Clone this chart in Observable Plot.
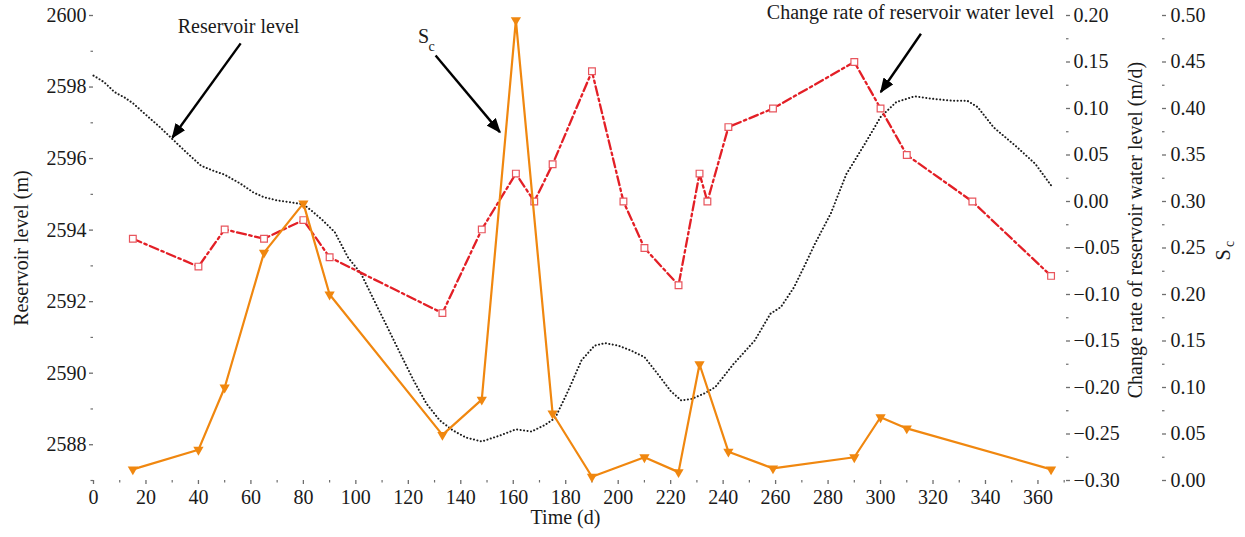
<!DOCTYPE html>
<html>
<head>
<meta charset="utf-8">
<script src="https://cdn.jsdelivr.net/npm/d3@7"></script>
<script src="https://cdn.jsdelivr.net/npm/@observablehq/plot@0.6"></script>
<style>
  html, body { margin: 0; padding: 0; background: #fff; }
  svg text { font-family: 'Liberation Serif', 'Times New Roman', serif; }
</style>
</head>
<body>
<div id="chart"></div>
<script>
// ---------- data ----------
const levelDays = [0, 4, 8, 12, 15, 20, 25, 30, 35, 41, 46, 50, 56, 61, 65, 70, 75, 80, 83, 87, 92, 97, 102, 107, 112, 117, 122, 127, 132, 137, 142, 148, 155, 161, 167, 172, 176, 181, 186, 191, 195, 200, 205, 210, 216, 220, 224, 228, 233, 237, 244, 252, 258, 262, 267, 271, 275, 281, 287, 294, 300, 306, 313, 320, 327, 333, 337, 343, 352, 359, 365.5];
const levelValues = [2598.32, 2598.14, 2597.86, 2597.7, 2597.55, 2597.22, 2596.9, 2596.55, 2596.2, 2595.8, 2595.65, 2595.55, 2595.3, 2595.05, 2594.92, 2594.83, 2594.78, 2594.72, 2594.55, 2594.3, 2593.94, 2593.24, 2592.78, 2592.03, 2591.29, 2590.54, 2589.8, 2589.14, 2588.68, 2588.4, 2588.2, 2588.09, 2588.26, 2588.43, 2588.37, 2588.55, 2588.75, 2589.52, 2590.36, 2590.77, 2590.84, 2590.77, 2590.63, 2590.45, 2589.89, 2589.5, 2589.24, 2589.28, 2589.44, 2589.61, 2590.26, 2590.91, 2591.66, 2591.85, 2592.4, 2593.0, 2593.62, 2594.46, 2595.57, 2596.41, 2597.16, 2597.58, 2597.74, 2597.67, 2597.62, 2597.62, 2597.44, 2596.88, 2596.32, 2595.85, 2595.2];

const rateDays = [15, 40, 50, 65, 80, 90, 133, 148, 161, 168, 175, 190, 202, 210, 223, 231, 234, 242, 259, 290, 300, 310, 335, 365];
const rateValues = [-0.04, -0.07, -0.03, -0.04, -0.02, -0.06, -0.12, -0.03, 0.03, 0.00, 0.04, 0.14, 0.00, -0.05, -0.09, 0.03, 0.00, 0.08, 0.10, 0.15, 0.10, 0.05, 0.00, -0.08];

const scDays = [15, 40, 50, 65, 80, 90, 133, 148, 161, 175, 190, 210, 223, 231, 242, 259, 290, 300, 310, 365];
const scValues = [0.012, 0.033, 0.10, 0.245, 0.298, 0.20, 0.049, 0.087, 0.495, 0.072, 0.004, 0.025, 0.009, 0.125, 0.031, 0.013, 0.025, 0.068, 0.056, 0.012];

// tick values
const xTicks = d3.range(0, 361, 20);
const xMinorTicks = d3.range(10, 371, 20);
const levelTicks = d3.range(2588, 2601, 2);
const levelMinorTicks = d3.range(2587, 2600, 2);
const rateTicks = [-0.30, -0.25, -0.20, -0.15, -0.10, -0.05, 0.00, 0.05, 0.10, 0.15, 0.20];
const rateMinorTicks = d3.range(-0.275, 0.2, 0.05);
const scTicks = [0.00, 0.05, 0.10, 0.15, 0.20, 0.25, 0.30, 0.35, 0.40, 0.45, 0.50];
const scMinorTicks = d3.range(0.025, 0.5, 0.05);

// annotations (data units: days, reservoir level m)
const annotMiddle = [
  { label: "Reservoir level", x: 55.3, y: 2599.70, size: 20 },
  { label: "S", x: 125.8, y: 2599.40, size: 20 },
  { label: "c", x: 128.9, y: 2599.12, size: 14 }
];
const annotEnd = [
  { label: "Change rate of reservoir water level", x: 366.1, y: 2600.07, size: 20 }
];
const annotArrows = [
  { x1: 56.1, y1: 2599.22, x2: 30.1, y2: 2596.59 },
  { x1: 130.4, y1: 2598.88, x2: 154.9, y2: 2596.74 },
  { x1: 315.4, y1: 2599.49, x2: 300.1, y2: 2597.86 }
];

// ---------- scale mapping for twin axes ----------
const LEVEL_MIN = 2587, LEVEL_MAX = 2600;
const RATE_MIN = -0.30, RATE_MAX = 0.20;
const SC_MIN = 0, SC_MAX = 0.5;
const span = LEVEL_MAX - LEVEL_MIN;
const rateToY = v => LEVEL_MIN + (v - RATE_MIN) / (RATE_MAX - RATE_MIN) * span;
const yToRate = y => RATE_MIN + (y - LEVEL_MIN) / span * (RATE_MAX - RATE_MIN);
const scToY = s => LEVEL_MIN + (s - SC_MIN) / (SC_MAX - SC_MIN) * span;
const yToSc = y => SC_MIN + (y - LEVEL_MIN) / span * (SC_MAX - SC_MIN);
const fmt2 = v => d3.format(".2f")((Math.round(v * 100) / 100) || 0);

const levelData = levelDays.map((d, i) => ({ d, v: levelValues[i] }));
const rateData = rateDays.map((d, i) => ({ d, v: rateToY(rateValues[i]) }));
const scData = scDays.map((d, i) => ({ d, v: scToY(scValues[i]) }));

const FONT = "'Liberation Serif', 'Times New Roman', serif";
const AXIS = "#6e6e6e";
const TEXT = "#1a1a1a";
const RED = "#e31f26";
const PINK = "#e8555d";
const ORANGE = "#f0870f";

const label = (txt, opts) => Plot.text([txt], { text: d => d, fill: TEXT, fontSize: 20, fontFamily: FONT, textAnchor: "middle", lineAnchor: "middle", ...opts });

const plot = Plot.plot({
  width: 1245,
  height: 537,
  marginLeft: 93,
  marginRight: 180,
  marginTop: 15,
  marginBottom: 57,
  style: {
    fontFamily: FONT,
    fontSize: "20px",
    background: "#fff",
    color: TEXT
  },
  x: { domain: [0, 370.5] },
  y: { domain: [LEVEL_MIN, LEVEL_MAX] },
  marks: [
    // x axis
    Plot.axisX({ ticks: xTicks, tickSize: 4, tickPadding: 5, line: true, label: null, stroke: AXIS, fill: TEXT, strokeWidth: 1.3, tickFormat: d => String(d) }),
    Plot.axisX({ ticks: xMinorTicks, tickSize: 2.5, text: null, label: null, stroke: AXIS, strokeWidth: 1.2 }),
    // left axis
    Plot.axisY({ anchor: "left", ticks: levelTicks, tickSize: 4, tickPadding: 3, line: true, label: null, stroke: AXIS, fill: TEXT, strokeWidth: 1.3, tickFormat: d => String(d) }),
    Plot.axisY({ anchor: "left", ticks: levelMinorTicks, tickSize: 2.5, text: null, label: null, stroke: AXIS, strokeWidth: 1.2 }),
    // right axis: change rate
    Plot.axisY({ anchor: "right", ticks: rateTicks.map(rateToY), tickSize: 4, tickPadding: 4, line: true, label: null, stroke: AXIS, fill: TEXT, strokeWidth: 1.3, tickFormat: y => fmt2(yToRate(y)) }),
    Plot.axisY({ anchor: "right", ticks: rateMinorTicks.map(rateToY), tickSize: 2.5, text: null, label: null, stroke: AXIS, strokeWidth: 1.2 }),
    // right axis: Sc (offset)
    Plot.axisY({ anchor: "right", dx: 96, ticks: scTicks.map(scToY), tickSize: 4, tickPadding: 5, line: true, label: null, stroke: AXIS, fill: TEXT, strokeWidth: 1.3, tickFormat: y => fmt2(yToSc(y)) }),
    Plot.axisY({ anchor: "right", dx: 96, ticks: scMinorTicks.map(scToY), tickSize: 2.5, text: null, label: null, stroke: AXIS, strokeWidth: 1.2 }),

    // axis titles
    label("Reservoir level (m)", { frameAnchor: "left", rotate: -90, dx: -72 }),
    label("Time (d)", { frameAnchor: "bottom", dx: -14, dy: 37 }),
    label("Change rate of reservoir water level (m/d)", { frameAnchor: "right", rotate: -90, dx: 70, dy: -18 }),
    label("S", { frameAnchor: "right", rotate: -90, dx: 158, dy: 7 }),
    label("c", { frameAnchor: "right", rotate: -90, dx: 164, dy: -4, fontSize: 14 }),

    // series
    Plot.line(levelData, { x: "d", y: "v", stroke: "#1c1c1c", strokeWidth: 2, strokeDasharray: "0.1,3.4", strokeLinecap: "round" }),
    Plot.line(rateData, { x: "d", y: "v", stroke: RED, strokeWidth: 2.3, strokeDasharray: "9,3.5,2.5,3.5" }),
    Plot.dot(rateData, { x: "d", y: "v", symbol: "square", r: 3.8, stroke: PINK, fill: "#fff", strokeWidth: 1.2 }),
    Plot.line(scData, { x: "d", y: "v", stroke: ORANGE, strokeWidth: 2.2 }),
    Plot.dot(scData, { x: "d", y: "v", symbol: "triangle", rotate: 180, r: 3.8, fill: ORANGE, stroke: "none" }),

    // annotations
    Plot.link(annotArrows, { x1: "x1", y1: "y1", x2: "x2", y2: "y2", stroke: "#000", strokeWidth: 2.4 }),
    Plot.text(annotMiddle, { x: "x", y: "y", text: "label", textAnchor: "middle", fontSize: "size", fontFamily: FONT, fill: TEXT }),
    Plot.text(annotEnd, { x: "x", y: "y", text: "label", textAnchor: "end", fontSize: "size", fontFamily: FONT, fill: TEXT })
  ]
});

// filled arrowheads for annotation arrows
const ns = "http://www.w3.org/2000/svg";
const defs = document.createElementNS(ns, "defs");
const marker = document.createElementNS(ns, "marker");
marker.setAttribute("id", "annot-head");
marker.setAttribute("viewBox", "0 0 15 12");
marker.setAttribute("refX", "13.5");
marker.setAttribute("refY", "6");
marker.setAttribute("markerWidth", "15");
marker.setAttribute("markerHeight", "12");
marker.setAttribute("markerUnits", "userSpaceOnUse");
marker.setAttribute("orient", "auto");
const mp = document.createElementNS(ns, "path");
mp.setAttribute("d", "M0,0L15,6L0,12Z");
mp.setAttribute("fill", "#000");
marker.appendChild(mp);
defs.appendChild(marker);
plot.insertBefore(defs, plot.firstChild);
plot.querySelectorAll('g[aria-label="link"] path, g[aria-label="link"] line').forEach(p => p.setAttribute("marker-end", "url(#annot-head)"));

document.getElementById("chart").appendChild(plot);
</script>
</body>
</html>
